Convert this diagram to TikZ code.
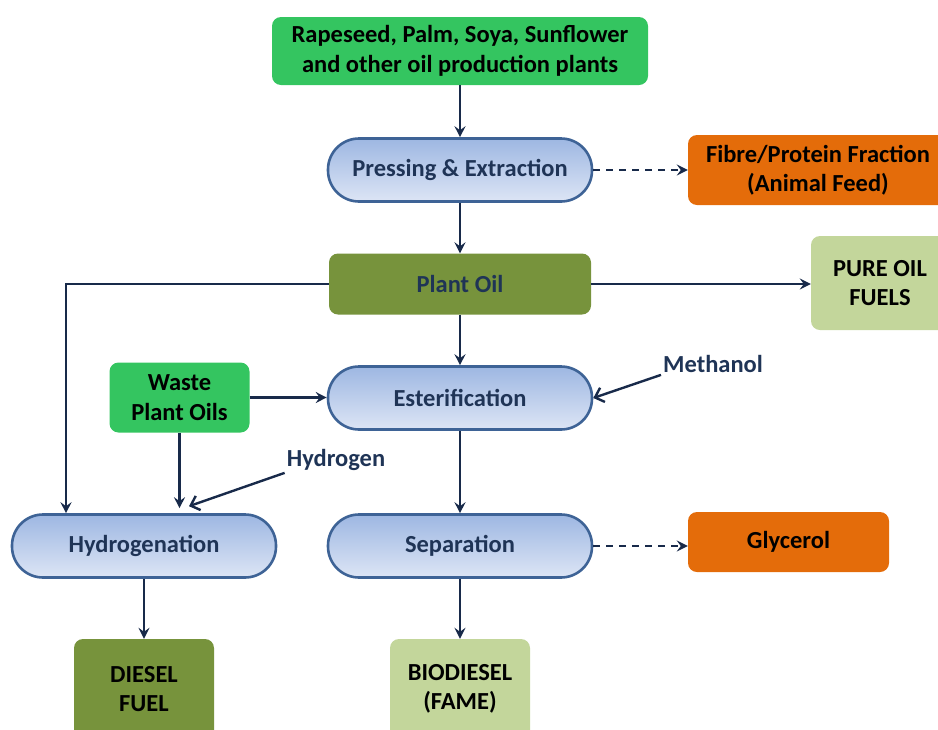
\documentclass[tikz,border=0pt]{standalone}
\usepackage{fontspec}
\setmainfont{Carlito}
\usetikzlibrary{positioning,arrows.meta,calc}

\definecolor{leafgreen}{RGB}{52,197,96}
\definecolor{olive}{RGB}{119,147,60}
\definecolor{palegreen}{RGB}{195,214,155}
\definecolor{rust}{RGB}{228,108,10}
\definecolor{pilltop}{RGB}{158,183,226}
\definecolor{pillbot}{RGB}{221,229,245}
\definecolor{pillline}{RGB}{62,99,150}
\definecolor{navy}{RGB}{24,42,74}
\definecolor{inknavy}{RGB}{31,52,86}

\begin{document}
\begin{tikzpicture}[x=1pt, y=-1pt,
    pill/.style={rectangle, rounded corners=31pt, draw=pillline, line width=2.6pt, top color=pilltop, bottom color=pillbot, minimum width=264pt, minimum height=63pt, text=inknavy, font=\bfseries\fontsize{24.5}{29.5}\selectfont},
    box/.style={rectangle, rounded corners=9pt, align=center, text=black, font=\bfseries\fontsize{24.5}{29.5}\selectfont},
    conn/.style={-{Stealth[length=11pt,width=11pt,inset=4pt]}, line width=2.4pt, draw=navy},
    feed/.style={conn, dash pattern=on 7pt off 6pt},
    barb/.style={-{Straight Barb[length=8pt,width=15pt]}, line width=2.4pt, draw=navy},
    tag/.style={text=inknavy, inner sep=2pt, font=\bfseries\fontsize{24.5}{29.5}\selectfont}]
        \useasboundingbox (0,0) rectangle (938,729);

        %% main column
        \node[box, fill=leafgreen, minimum width=376pt, minimum height=68pt] (plants) at (460,51) {Rapeseed, Palm, Soya, Sunflower\\and other oil production plants};
        \node[pill] (press) at (460,170) {Pressing \& Extraction};
        \node[box, fill=olive, text=inknavy, minimum width=262pt, minimum height=61pt] (oil) at (460,284) {Plant Oil};
        \node[pill] (ester) at (460,398) {Esterification};
        \node[pill] (sep) at (460,546) {Separation};
        \node[box, fill=palegreen, minimum width=140pt, minimum height=100pt] (fame) at (460,689) {BIODIESEL\\(FAME)};

        %% side products
        \node[box, fill=rust, minimum width=260pt, minimum height=70pt] (fibre) at (818,170) {Fibre/Protein Fraction\\(Animal Feed)};
        \node[box, fill=palegreen, minimum width=138pt, minimum height=94pt] (pure) at (880,283) {PURE OIL\\FUELS};
        \node[box, fill=rust, minimum width=201pt, minimum height=60pt] (glyc) at (788.5,542) {Glycerol};

        %% hydrogenation branch
        \node[box, fill=leafgreen, minimum width=140pt, minimum height=70pt] (waste) at (179.5,397.5) {Waste\\Plant Oils};
        \node[pill] (hydro) at (144,546) {Hydrogenation};
        \node[box, fill=olive, minimum width=140pt, minimum height=100pt] (diesel) at (144,689) {DIESEL\\FUEL};

        \node[tag] (meth) at (713,364) {Methanol};
        \node[tag] (hyd2) at (336,460) {Hydrogen};

        %% connectors
        \draw[conn] (plants) -- (press);
        \draw[conn] (press) -- (oil);
        \draw[conn] (oil) -- (ester);
        \draw[conn] (ester) -- (sep);
        \draw[conn] (sep) -- (fame);
        \draw[feed] (press) -- (fibre);
        \draw[feed] (sep.east) -- (sep.east -| glyc.west);
        \draw[conn] (oil.east) -- (oil.east -| pure.west);
        \draw[conn] (oil.west) -| ([xshift=-78pt]hydro.north);
        \draw[conn] (waste.east) -- (waste.east -| ester.west);
        \draw[conn, shorten >=5pt] (waste.south) -- (waste.south |- hydro.north);
        \draw[conn] (hydro) -- (diesel);
        \draw[barb] (meth.south west) -- (ester.east);
        \draw[barb] (hyd2.south west) -- ([xshift=45pt,yshift=7pt]hydro.north);
\end{tikzpicture}
\end{document}
